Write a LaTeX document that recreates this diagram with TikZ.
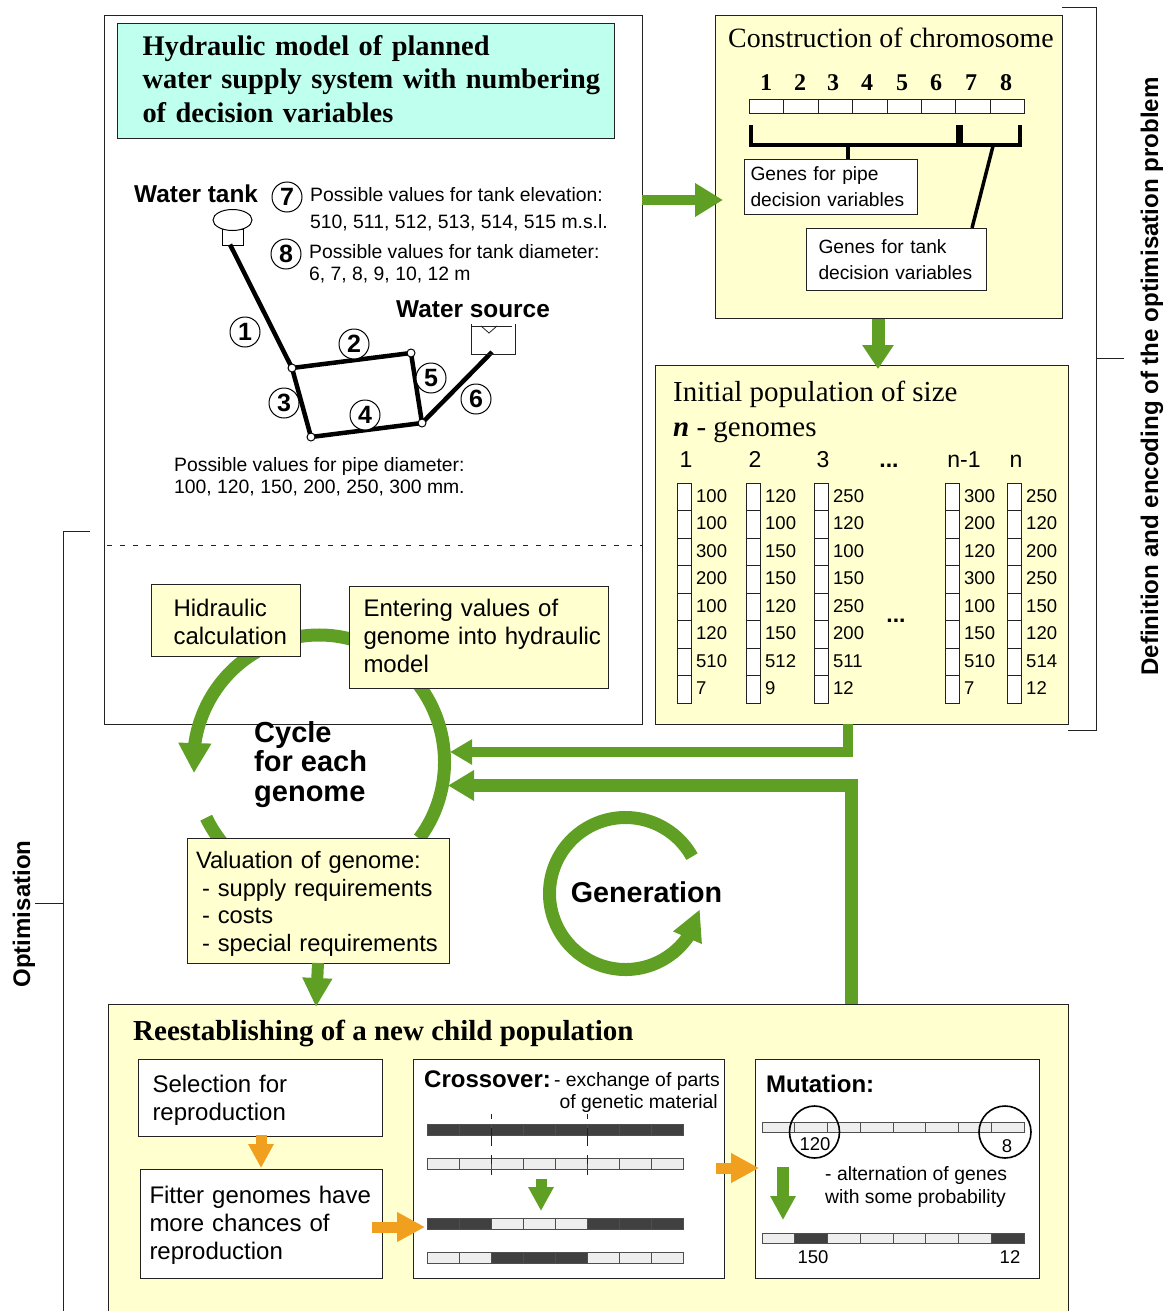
\documentclass[tikz,border=0pt]{standalone}
\usepackage{fontspec}
\setmainfont{Liberation Sans}
\newfontfamily\ser{Liberation Serif}
\usetikzlibrary{arrows.meta,shapes.geometric,bending}
\definecolor{gr}{HTML}{5FA024}
\definecolor{orng}{HTML}{F19F1F}
\definecolor{yel}{HTML}{FFFFCF}
\definecolor{cyn}{HTML}{BFFFEE}
\definecolor{lcell}{HTML}{EEEEEE}
\definecolor{dcell}{HTML}{404040}
\definecolor{edge}{HTML}{222222}
\newcommand\fs[2]{\fontsize{#1}{#2}\selectfont}
% name x1 y1 x2 y2 pad opts text
\newcommand\bx[8]{%
  \pgfmathsetmacro\bw{#4-#2}\pgfmathsetmacro\bh{#5-#3}\pgfmathsetmacro\tw{#4-#2-4}\pgfmathsetmacro\lpad{#6-2}%
  \node[boxbase,#7,minimum width=\bw pt,minimum height=\bh pt,text width=\tw pt,inner xsep=2pt] (#1) at (#2,#3) {\leftskip=\lpad pt\relax #8\par};}
\tikzset{
  boxbase/.style={draw=edge,line width=1pt,anchor=north west,inner ysep=0pt,align=left,text=black},
  yb/.style={fill=yel},
  wb/.style={fill=white},
  txt/.style={anchor=base west,inner sep=0pt,align=left,text=black},
  sm/.style={font=\fs{19.35}{22}},
  big/.style={font=\fs{24.4}{28}\bfseries},
  num/.style={circle,draw=black,line width=1pt,fill=white,minimum size=30pt,inner sep=0pt,font=\fs{25}{28}\bfseries},
  blk/.style n args={4}{draw=#1,line width=#2pt,line join=miter,-{Triangle[length=#3pt,width=#4pt]}},
  pipe/.style={line width=4.5pt,draw=black},
  jn/.style={circle,draw=black,fill=white,line width=1pt,minimum size=8pt,inner sep=0pt},
  bracket/.style={line width=1pt,draw=edge},
  chr/.style={line width=3.5pt,draw=black},
  cell/.style={draw=edge,line width=1pt,fill=white},
  gray cell/.style={draw=edge!80,line width=1pt},
}
\begin{document}
\begin{tikzpicture}[x=1pt,y=-1pt]
\useasboundingbox (0,0) rectangle (1168,1311);
% ----- large frames
\node[draw=edge,line width=1pt,fill=white,anchor=north west,minimum width=538pt,minimum height=709pt,inner sep=0pt] (frame) at (104,15) {};
\coordinate (dl) at (107,545); \coordinate (dr) at (642,545);
\draw[line width=.8pt,dash pattern=on 5pt off 8pt,draw=edge] (dl) -- (dr);
\bx{title}{117}{23}{614}{138}{25}{fill=cyn,font=\ser\fs{28.4}{33.5}\bfseries}{Hydraulic model of planned\\water supply system with numbering\\of decision variables\rule[-4pt]{0pt}{4pt}}
% ----- brackets
\coordinate (db1) at (1062,8); \coordinate (db2) at (1096,8); \coordinate (db3) at (1096,730); \coordinate (db4) at (1068,730);
\coordinate (dbt) at (1096,358); \coordinate (dbl) at (1124,358);
\draw[bracket] (db1) -- (db2) -- (db3) -- (db4); \draw[bracket] (dbt) -- (dbl);
\node[rotate=90,inner sep=0pt,font=\fs{24.1}{28}\bfseries] (deflab) at (1152,376.5) {Definition and encoding of the optimisation problem};
\coordinate (ob1) at (90,531); \coordinate (ob2) at (63,531); \coordinate (ob3) at (63,1311);
\coordinate (obt) at (63,903); \coordinate (obl) at (35,903);
\draw[bracket] (ob1) -- (ob2) -- (ob3); \draw[bracket] (obt) -- (obl);
\node[rotate=90,inner sep=0pt,font=\fs{24}{28}\bfseries] (optlab) at (24,914) {Optimisation};
% ----- network
\node[draw=black,line width=1pt,fill=white,anchor=north,minimum width=21pt,minimum height=16pt,inner sep=0pt] (tank) at (232.5,228.5) {};
\node[ellipse,draw=black,line width=1pt,fill=white,minimum width=39pt,minimum height=21pt,inner sep=0pt] (tanktop) at (232.5,220) {};
\coordinate (tankout) at (230,244.5);
\coordinate (srcout) at (492,352);
\coordinate (pA) at (292,368); \coordinate (pB) at (411,353); \coordinate (pC) at (422,423); \coordinate (pD) at (311,437);
\draw[pipe] (tankout) -- (pA);
\draw[pipe] (pA) -- (pB);
\draw[pipe] (pA) -- (pD);
\draw[pipe] (pD) -- (pC);
\draw[pipe] (pB) -- (pC);
\draw[pipe] (pC) -- (srcout);
\node[jn] (A) at (pA) {};
\node[jn] (B) at (pB) {};
\node[jn] (C) at (pC) {};
\node[jn] (D) at (pD) {};
\coordinate (s1) at (471,324); \coordinate (s2) at (471,354); \coordinate (s3) at (515,354); \coordinate (s4) at (515,324);
\draw[line width=1pt,draw=edge] (s1) -- (s2) -- (s3) -- (s4);
\coordinate (w1) at (472,326); \coordinate (w2) at (512,326); \coordinate (w3) at (489,333); \coordinate (w4) at (481,326); \coordinate (w5) at (497,326);
\draw[line width=.8pt,draw=edge] (w1) -- (w2); \draw[line width=.8pt,draw=edge] (w4) -- (w3) -- (w5);
\node[num] (n1) at (245,332) {1};
\node[num] (n2) at (354,344) {2};
\node[num] (n3) at (284,403) {3};
\node[num] (n4) at (365,415) {4};
\node[num] (n5) at (431,378) {5};
\node[num] (n6) at (476,399) {6};
\node[num] (n7) at (287,197) {7};
\node[num] (n8) at (286,254) {8};
\node[txt,big] (wt) at (134,202) {Water tank};
\node[txt,big] (ws) at (396,317) {Water source};
\node[txt,sm] (e1) at (310,201) {Possible values for tank elevation:};
\node[txt,sm] (e2) at (310,228) {510, 511, 512, 513, 514, 515 m.s.l.};
\node[txt,sm] (d1) at (309,280) {Possible values for tank diameter:\\6, 7, 8, 9, 10, 12 m};
\node[txt,sm] (p1) at (174,493) {Possible values for pipe diameter:\\100, 120, 150, 200, 250, 300 mm.};
% ----- cycle arcs
\draw[draw=gr,line width=13pt,-{Triangle[length=30pt,width=31pt]}] ([shift={(319,762)}]-37:125.5pt and 127pt) arc[start angle=-37,end angle=185,x radius=125.5pt,y radius=127pt];
\draw[draw=gr,line width=13pt] ([shift={(319,762)}]206:125.5pt and 127pt) arc[start angle=206,end angle=232,x radius=125.5pt,y radius=127pt];
\draw[draw=gr,line width=13pt,-{Triangle[length=31pt,width=29pt,flex=1]}] ([shift={(625.5,893.5)}]29:76pt) arc[start angle=29,end angle=348,radius=76pt];
\node[txt,font=\fs{29}{29.5}\bfseries] (cyc) at (254,801) {Cycle\\for each\\genome};
\node[inner sep=0pt,font=\fs{28.7}{34}\bfseries] (gen) at (646.5,892) {Generation};
% ----- boxes on the cycle
\bx{hid}{151}{584}{300}{656}{22}{yb,font=\fs{24}{28}}{\rule{0pt}{20pt}Hidraulic\\calculation}
\bx{ent}{349}{586}{608}{688}{14}{yb,font=\fs{24}{28}}{Entering values of\\genome into hydraulic\\model\rule[-4pt]{0pt}{4pt}}
\bx{val}{187}{838}{449}{963}{8.5}{yb,font=\fs{23.7}{27.8}}{\rule{0pt}{23pt}Valuation of genome:\\\hspace*{6pt}- supply requirements\\\hspace*{6pt}- costs\\\hspace*{6pt}- special requirements}
% ----- chromosome
\bx{chrom}{715}{15}{1062}{318}{0}{yb}{}
\node[txt,font=\ser\fs{27.9}{33}] (chromt) at (728,48) {Construction of chromosome};
\foreach \i/\x in {1/766,2/800,3/833,4/867,5/902,6/936,7/971,8/1006}{
  \node[anchor=base,inner sep=0pt,font=\ser\fs{24}{28}\bfseries] (g\i) at (\x,91) {\i};
}
\foreach \i in {0,...,7}{
  \pgfmathsetmacro\xa{749.5+34.4*\i}\pgfmathsetmacro\xb{749.5+34.4*(\i+1)}
  \draw[cell] (\xa,100) rectangle (\xb,114);
}
\coordinate (b1) at (751,125); \coordinate (b2) at (751,145); \coordinate (b3) at (958,145); \coordinate (b4) at (958,125);
\coordinate (b5) at (961,125); \coordinate (b6) at (961,145); \coordinate (b7) at (1020,145); \coordinate (b8) at (1020,125);
\coordinate (bs) at (848,145); \coordinate (bt) at (993,146);
\draw[chr,line join=miter] (b1) -- (b2) -- (b3) -- (b4);
\draw[chr,line join=miter] (b5) -- (b6) -- (b7) -- (b8);
\bx{gp}{744}{159}{917}{214}{6}{wb,font=\fs{19.2}{26}}{Genes for pipe\\decision variables}
\bx{gt}{806}{228}{986}{290}{12}{wb,font=\fs{19.2}{26}}{Genes for tank\\decision variables}
\coordinate (gpt) at (848,159); \coordinate (gtt) at (972,228);
\draw[chr] (bs) -- (gpt);
\draw[chr] (bt) -- (gtt);
% ----- initial population
\bx{pop}{655}{365}{1068}{724}{0}{yb}{}
\node[txt,font=\ser\fs{29}{35}] (popt) at (673,436) {Initial population of size\\\textbf{\textit{n}} - genomes};
\foreach \nm/\x/\l in {1/686/1,2/755/2,3/823/3,m/964/n-1,n/1016/n}{
  \node[anchor=base,inner sep=0pt,font=\fs{23}{26}] (h\nm) at (\x,467) {\l};
}
\node[anchor=base,inner sep=0pt,font=\fs{23}{26}\bfseries] (hd) at (889,467) {...};
\node[anchor=base,inner sep=0pt,font=\fs{23}{26}\bfseries] (vd) at (896,622) {...};
\foreach \x/\vals in {677/{100,100,300,200,100,120,510,7},746/{120,100,150,150,120,150,512,9},814/{250,120,100,150,250,200,511,12},945/{300,200,120,300,100,150,510,7},1007/{250,120,200,250,150,120,514,12}}{
  \foreach \v [count=\k from 0] in \vals {
    \pgfmathsetmacro\ya{483+27.5*\k}\pgfmathsetmacro\yb{483+27.5*(\k+1)}\pgfmathsetmacro\yc{\ya+19.2}
    \draw[cell] (\x,\ya) rectangle (\x+14,\yb);
    \node[txt,font=\fs{18.5}{22}] at (\x+19,\yc) {\v};
  }
}
% ----- child population
\bx{re}{108}{1004}{1068}{1311}{0}{yb}{}
\node[txt,font=\ser\fs{29}{32}\bfseries] (ret) at (133,1040) {Reestablishing of a new child population};
\bx{sel}{138}{1059}{382}{1136}{14}{wb,font=\fs{24}{28}}{\rule{0pt}{22pt}Selection for\\reproduction}
\bx{fit}{140}{1169}{382}{1278}{9}{wb,font=\fs{24}{28}}{\rule{0pt}{20pt}Fitter genomes have\\more chances of\\reproduction}
\bx{cro}{413}{1059}{724}{1278}{0}{wb}{}
\bx{mut}{755}{1059}{1039}{1278}{0}{wb}{}
\node[txt,font=\fs{24}{26}\bfseries] (crot) at (424,1087) {Crossover:};
\node[anchor=base east,inner sep=0pt,align=right,font=\fs{19.35}{22}] (crod) at (720,1108) {- exchange of parts\\of genetic material\hspace*{2pt}};
\node[txt,font=\fs{24}{26}\bfseries] (mutt) at (766,1092) {Mutation:};
% crossover bars: top y, pattern (d dark, l light)
\foreach \y/\pat in {1124/{d,d,d,d,d,d,d,d},1158/{l,l,l,l,l,l,l,l},1218/{d,d,l,l,l,d,d,d},1252/{l,l,d,d,d,l,l,l}}{
  \foreach \cc [count=\k from 0] in \pat {
    \pgfmathsetmacro\xa{427+32*\k}\pgfmathsetmacro\xb{427+32*(\k+1)}
    \if\cc d\relax \draw[gray cell,fill=dcell] (\xa,\y) rectangle (\xb,\y+11);
    \else \draw[gray cell,fill=lcell] (\xa,\y) rectangle (\xb,\y+11); \fi
  }
}
\foreach \nm/\x in {a/491,b/587}{
  \coordinate (cu\nm) at (\x,1114); \coordinate (cd\nm) at (\x,1180);
  \draw[line width=.8pt,draw=edge,dash pattern=on 5pt off 9pt on 18pt off 9pt on 9pt off 6pt on 5pt off 14pt] (cu\nm) -- (cd\nm);
}
% mutation bars
\foreach \y/\pat in {1122/{l,l,l,l,l,l,l,l},1233/{l,d,l,l,l,l,l,d}}{
  \foreach \cc [count=\k from 0] in \pat {
    \pgfmathsetmacro\xa{762+32.75*\k}\pgfmathsetmacro\xb{762+32.75*(\k+1)}
    \if\cc d\relax \draw[gray cell,fill=dcell] (\xa,\y) rectangle (\xb,\y+10);
    \else \draw[gray cell,fill=lcell] (\xa,\y) rectangle (\xb,\y+10); \fi
  }
}
\node[ellipse,draw=black,line width=1.6pt,minimum width=50pt,minimum height=52pt,inner sep=0pt] (mc1) at (814.5,1132) {};
\node[ellipse,draw=black,line width=1.6pt,minimum width=52pt,minimum height=52pt,inner sep=0pt] (mc2) at (1005,1132) {};
\node[anchor=base,inner sep=0pt,font=\fs{18.5}{22}] (m120) at (815,1150) {120};
\node[anchor=base,inner sep=0pt,font=\fs{18.5}{22}] (m8) at (1007,1152) {8};
\node[anchor=base,inner sep=0pt,font=\fs{18.5}{22}] (m150) at (813,1263) {150};
\node[anchor=base,inner sep=0pt,font=\fs{18.5}{22}] (m12) at (1010,1263) {12};
\node[txt,font=\fs{19.35}{22.5}] (malt) at (825,1203) {- alternation of genes\\with some probability};
% ----- block arrows
\coordinate (a1) at (642,200); \coordinate (a2) at (723,200);
\draw[blk={gr}{10}{28}{32}] (a1) -- (a2);
\coordinate (c2) at (878,369);
\draw[blk={gr}{13}{24}{30}] (chrom.south -| c2) -- (c2);
\coordinate (i1) at (847.5,724); \coordinate (i2) at (847.5,752); \coordinate (i3) at (450,752);
\draw[blk={gr}{10}{22}{24}] (i1) -- (i2) -- (i3);
\coordinate (r1) at (851.5,1004); \coordinate (r2) at (851.5,785.5); \coordinate (r3) at (448,785.5);
\draw[blk={gr}{13}{26}{29}] (r1) -- (r2) -- (r3);
\coordinate (v1) at (318,963); \coordinate (v2) at (316,1007);
\draw[blk={gr}{12}{29}{28}] (v1) -- (v2);
\coordinate (o1) at (261,1135); \coordinate (o2) at (261,1168);
\draw[blk={orng}{11}{24}{24}] (o1) -- (o2);
\coordinate (o3) at (372,1227); \coordinate (o4) at (425,1227);
\draw[blk={orng}{11}{28}{28}] (o3) -- (o4);
\coordinate (o5) at (716,1168); \coordinate (o6) at (759,1168);
\draw[blk={orng}{11}{28}{28}] (o5) -- (o6);
\coordinate (g1) at (541,1179); \coordinate (g2) at (541,1211);
\draw[blk={gr}{11}{24}{24}] (g1) -- (g2);
\coordinate (g3) at (783,1167); \coordinate (g4) at (783,1220);
\draw[blk={gr}{12}{24}{24}] (g3) -- (g4);
\end{tikzpicture}
\end{document}
